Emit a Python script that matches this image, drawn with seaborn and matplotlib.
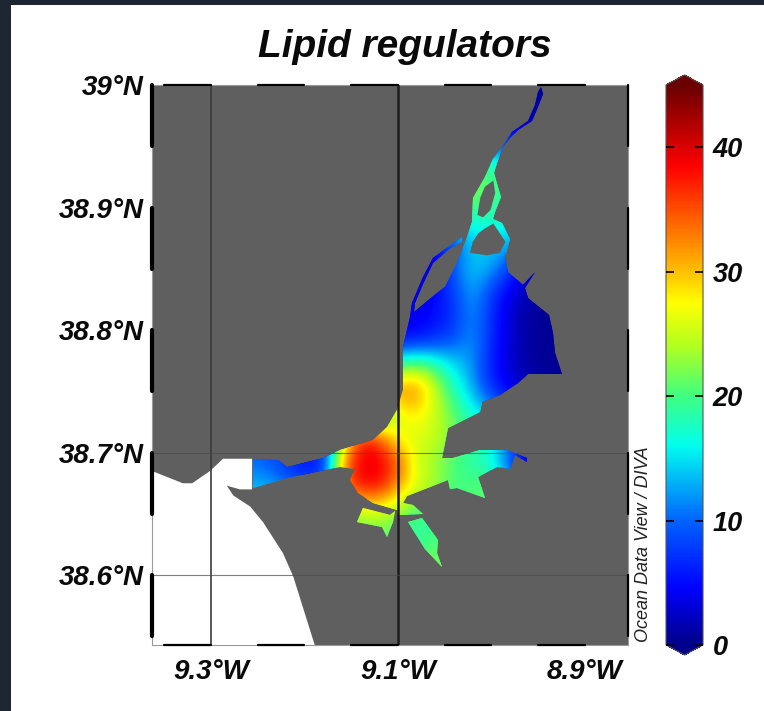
import numpy as np
import matplotlib
matplotlib.use("Agg")
import matplotlib.pyplot as plt
import seaborn as sns
from matplotlib.colors import LinearSegmentedColormap
from matplotlib.patches import Polygon, Rectangle
from matplotlib.path import Path

# map limits
lon_min, lon_max = -9.363, -8.854
lat_min, lat_max = 38.543, 39.0

# lipid regulators, 0.02 deg cells, north to south, west to east
lipid_grid = [
    [5,5,5,5,5,5,5,5,5,5,5,5,5,5,5,5,5,8,6,3,1,1,1,1,1,1],
    [5,5,5,5,5,5,5,5,5,5,5,5,5,5,5,5,12,10,6,3,2,1,1,1,1,1],
    [5,5,5,5,5,5,5,5,5,5,5,5,5,5,5,14,14,13,11,8,5,2,1,1,1,1],
    [5,5,5,5,5,5,5,5,5,5,5,5,5,5,5,19,20,21,20,18,12,5,1,1,1,1],
    [5,5,5,5,5,5,5,5,5,5,5,5,5,5,5,20,22,22,21,18,15,8,1,1,1,1],
    [5,5,5,5,5,5,5,5,5,5,5,5,5,5,5,14,15,18,18,17,15,8,1,1,1,1],
    [3,3,3,3,3,3,3,3,3,3,3,3,3,3,3,5,9,14,14,14,10,5,1,1,1,1],
    [3,3,3,3,3,3,3,3,3,3,3,3,3,3,3,3,10,14,13,8,3,2,1,1,1,1],
    [3,3,3,3,3,3,3,3,3,3,3,3,3,3,3,5,8,13,8,4,1.5,0.5,0.5,0.5,0.5,0.5],
    [4,4,4,4,4,4,4,4,4,4,4,4,3.5,3.5,4,5,7,12,7,3,1,0.5,0.5,0.5,0.5,0.5],
    [5,5,5,5,5,5,5,5,5,5,5,5,5,5,5.5,7,9,12,7,3,1,0.5,0.5,0.5,0.5,0.5],
    [15,15,15,15,15,15,15,15,15,15,15,15,18,20,22,19,15,12,6,3,1,0.5,0.5,0.5,0.5,0.5],
    [20,20,20,20,20,20,20,20,20,20,20,25,31,33,33,25,18,13,7,4,2,1,0.5,0.5,0.5,0.5],
    [10,10,10,10,10,10,10,10,10,10,10,12,15,27,28,25,21,17,14,10,5,2,1,1,1,1],
    [10,10,10,10,10,10,10,10,10,12,26,39,35,26,26,25,22,20,17,12,6,3,1,1,1,1],
    [10,10,10,10,10,10,9,6,4,5,33,39.5,39.5,35,25,23,20,18,17,9,2,1,1,1,1,1],
    [14,14,14,14,13,14,13,11,10,12,35,38.5,38,31,26,24,20,21,21,15,8,4,1,1,1,1],
    [14,14,14,14,14,14,14,14,14,18,22,25,25,23,20,19,19,20,21,20,15,10,5,5,5,5],
    [20,20,20,20,20,20,20,20,20,20,21,21,21,20,18,20,20,20,20,20,20,20,20,20,20,20],
    [21,21,21,21,21,21,21,21,21,21,21,21,21,21,21,22,21,21,21,21,21,21,21,21,21,21],
    [21,21,21,21,21,21,21,21,21,21,21,21,21,21,21,22,21,21,21,21,21,21,21,21,21,21],
    [21,21,21,21,21,21,21,21,21,21,21,21,21,21,21,21,21,21,21,21,21,21,21,21,21,21],
    [21,21,21,21,21,21,21,21,21,21,21,21,21,21,21,21,21,21,21,21,21,21,21,21,21,21],
]

# coastlines (lon, lat)
estuary_main = [(-8.947,38.998),(-8.945,38.993),(-8.950,38.982),(-8.957,38.971),(-8.972,38.963),(-8.980,38.957),
    (-8.988,38.949),(-8.994,38.936),(-8.997,38.928),(-8.993,38.917),(-8.990,38.909),(-8.996,38.896),(-8.998,38.891),
    (-8.989,38.887),(-8.980,38.874),(-8.985,38.860),(-8.982,38.847),(-8.966,38.837),(-8.953,38.847),(-8.964,38.834),
    (-8.961,38.826),(-8.939,38.812),(-8.934,38.798),(-8.932,38.781),(-8.925,38.764),(-8.961,38.764),(-8.972,38.757),
    (-8.991,38.747),(-9.010,38.741),(-9.012,38.733),(-9.047,38.720),(-9.053,38.696),(-9.041,38.696),(-9.012,38.702),
    (-8.983,38.702),(-8.962,38.696),(-8.962,38.692),(-8.975,38.698),(-8.980,38.687),(-8.994,38.688),(-9.001,38.686),
    (-9.014,38.680),(-9.007,38.663),(-9.037,38.671),(-9.044,38.670),(-9.046,38.678),(-9.090,38.665),(-9.095,38.659),
    (-9.084,38.657),(-9.073,38.650),(-9.100,38.649),(-9.101,38.653),(-9.127,38.659),(-9.143,38.667),(-9.151,38.678),
    (-9.146,38.687),(-9.162,38.688),(-9.219,38.679),(-9.255,38.671),(-9.255,38.695),(-9.228,38.694),(-9.219,38.688),
    (-9.180,38.696),(-9.162,38.702),(-9.127,38.710),(-9.112,38.721),(-9.101,38.735),(-9.095,38.751),(-9.095,38.786),
    (-9.087,38.811),(-9.085,38.822),(-9.073,38.843),(-9.062,38.859),(-9.047,38.868),(-9.031,38.876),(-9.031,38.872),
    (-9.046,38.865),(-9.062,38.855),(-9.073,38.838),(-9.082,38.822),(-9.083,38.815),(-9.058,38.830),(-9.050,38.835),
    (-9.037,38.855),(-9.028,38.871),(-9.021,38.888),(-9.020,38.908),(-9.007,38.925),(-8.998,38.940),(-8.985,38.953),
    (-8.978,38.962),(-8.961,38.971),(-8.953,38.984),(-8.950,38.994)]
south_arm_west = [(-9.137,38.655),(-9.108,38.649),(-9.103,38.652),(-9.105,38.643),(-9.112,38.631),(-9.117,38.639),(-9.144,38.643)]
south_arm_east = [(-9.089,38.643),(-9.074,38.647),(-9.057,38.629),(-9.058,38.618),(-9.053,38.607),(-9.071,38.621)]
island_north = [(-9.007,38.917),(-8.998,38.922),(-8.996,38.912),(-9.001,38.898),(-9.009,38.892),(-9.015,38.894),(-9.012,38.908)]
island_south = [(-9.023,38.863),(-9.020,38.872),(-9.014,38.879),(-9.007,38.883),(-8.998,38.887),(-8.985,38.872),(-8.991,38.863),(-9.005,38.861)]
ocean = [(-9.363,38.685),(-9.330,38.675),(-9.320,38.675),(-9.301,38.685),(-9.287,38.695),(-9.256,38.695),(-9.256,38.670),
    (-9.269,38.670),(-9.283,38.673),(-9.276,38.665),(-9.258,38.656),(-9.244,38.643),(-9.223,38.618),(-9.212,38.599),
    (-9.189,38.543),(-9.363,38.543)]

# axis ticks and frame dashes
lon_ticks = [-9.3,-9.1,-8.9]
lon_labels = ["9.3°W","9.1°W","8.9°W"]
lat_ticks = [39.0,38.9,38.8,38.7,38.6]
lat_labels = ["39°N","38.9°N","38.8°N","38.7°N","38.6°N"]
lon_dashes = [(-9.35,-9.30),(-9.25,-9.20),(-9.15,-9.10),(-9.05,-9.00),(-8.95,-8.90)]
lat_dashes = [(39.0,38.95),(38.9,38.85),(38.8,38.75),(38.7,38.65),(38.6,38.55)]
cbar_ticks = [0,10,20,30,40]

# colour scale taken from the bar
scale_vals = [0,4.5,10,16,20,24,27.5,31,38.5,45]
scale_cols = ["#00008a","#0000ff","#0064ff","#00ffee","#40ff80","#b0ff20","#ffff00","#ffa800","#ff0000","#6a0000"]
vmin, vmax = 0, 45
cmap = LinearSegmentedColormap.from_list("odv",[((v-vmin)/(vmax-vmin),c) for v,c in zip(scale_vals,scale_cols)],N=256)

sns.set_style("white")
plt.rcParams['font.family'] = ['Liberation Sans','DejaVu Sans']

W,H = 764,711
fig = plt.figure(figsize=(W/100,H/100),dpi=100,facecolor="#1f2633")
fig.add_artist(Rectangle((11/W,0),(W-11)/W,(H-5)/H,transform=fig.transFigure,fc="white",ec="none",zorder=-5))

ax = fig.add_axes([152/W,1-645/H,476/W,560/H])
# the extend tips take room from this box, so it is 10 px longer at both ends
cax = fig.add_axes([666/W,1-655/H,37/W,580/H])

grid = np.array(lipid_grid,dtype=float)
nrows,ncols = grid.shape

def to_x(lon):
    return (np.asarray(lon)-lon_min)/(lon_max-lon_min)*ncols
def to_y(lat):
    return (lat_max-np.asarray(lat))/(lat_max-lat_min)*nrows
def to_xy(points):
    pts = np.array(points)
    return np.column_stack([to_x(pts[:,0]),to_y(pts[:,1])])

sns.heatmap(grid,ax=ax,cbar_ax=cax,cmap=cmap,vmin=vmin,vmax=vmax,xticklabels=False,yticklabels=False,
            cbar_kws={"extend":"both","extendfrac":0.018,"ticks":cbar_ticks})
land = "#5f5f5f"
ax.set_facecolor(land)
ax.add_patch(Polygon(to_xy(ocean),closed=True,fc="white",ec="none",zorder=0.5))

# only the water shows the field
water = Path.make_compound_path(*[Path(to_xy(p+p[:1]),closed=True) for p in [estuary_main,south_arm_west,south_arm_east]])
mesh = ax.collections[0]
mesh.set_zorder(1)
mesh.set_clip_path(water,ax.transData)
smooth = ax.imshow(grid,cmap=cmap,vmin=vmin,vmax=vmax,extent=(0,ncols,nrows,0),aspect="auto",
                   interpolation="bicubic",zorder=1.5)
smooth.set_clip_path(water,ax.transData)
ax.set_xlim(0,ncols)
ax.set_ylim(nrows,0)
for p in [island_north,island_south]:
    ax.add_patch(Polygon(to_xy(p),closed=True,fc=land,ec="none",zorder=2))

# graticule
ax.axvline(to_x(-9.3),color="#3c3c3c",lw=1.2,zorder=3)
ax.axvline(to_x(-9.1),color="#1c1c1c",lw=1.8,zorder=3)
for lat in [38.7,38.6]:
    ax.axhline(to_y(lat),color="#4a4a4a",lw=0.8,alpha=0.7,zorder=3)

# frame
for side in ["top","bottom","left","right"]:
    ax.spines[side].set_visible(True)
    ax.spines[side].set_color("#9a9a9a")
    ax.spines[side].set_linewidth(0.8)
for a,b in lon_dashes:
    ax.plot(to_x([a,b]),[0,0],color="k",lw=1.6,clip_on=False,zorder=5)
    ax.plot(to_x([a,b]),[nrows,nrows],color="k",lw=1.6,clip_on=False,zorder=5)
for a,b in lat_dashes:
    ax.plot([0,0],to_y([a,b]),color="k",lw=3,clip_on=False,zorder=5)
    ax.plot([ncols,ncols],to_y([a,b]),color="k",lw=1.6,clip_on=False,zorder=5)

label_font = dict(fontsize=20,fontweight="bold",fontstyle="italic",color="#0a0a0a")
ax.set_xticks(to_x(lon_ticks))
ax.set_xticklabels(lon_labels,**label_font)
ax.set_yticks(to_y(lat_ticks))
ax.set_yticklabels(lat_labels,rotation=0,**label_font)
ax.tick_params(axis="x",length=0,pad=10)
ax.tick_params(axis="y",length=0,pad=6)

fig.text(405/W,1-57/H,"Lipid regulators",ha="center",va="baseline",fontsize=28,fontweight="bold",fontstyle="italic",color="#0a0a0a")
fig.text(644/W,1-642/H,"Ocean Data View / DIVA",rotation=90,ha="center",va="bottom",fontsize=13,fontstyle="italic",color="#222222")

# colour bar
cb = mesh.colorbar
cb.outline.set_visible(True)
cb.outline.set_edgecolor("#555555")
cb.outline.set_linewidth(0.8)
cb.ax.set_axisbelow(False)
cb.ax.tick_params(direction="in",left=True,right=True,length=6,width=1.2,color="k",pad=7)
for t in cb.ax.get_yticklabels():
    t.set_fontsize(19.5)
    t.set_fontweight("bold")
    t.set_fontstyle("italic")
    t.set_color("#0a0a0a")

fig.savefig("out.png",dpi=100,facecolor=fig.get_facecolor())
